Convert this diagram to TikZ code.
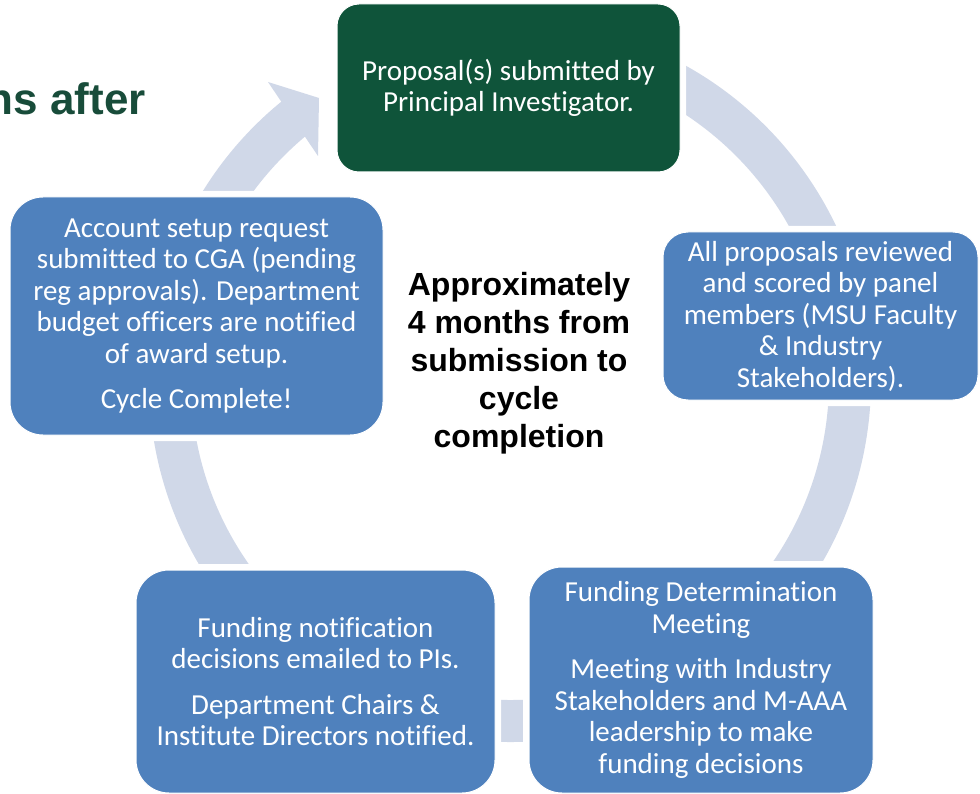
\documentclass[tikz,border=0pt]{standalone}
\usepackage{fontspec}
\setmainfont{Carlito}[Ligatures=NoCommon]
\newfontfamily\headfont{Liberation Sans}

\definecolor{stageblue}{RGB}{79,129,189}
\definecolor{startgreen}{RGB}{15,84,58}
\definecolor{ringgrey}{RGB}{208,216,232}
\definecolor{titlegreen}{RGB}{24,76,58}

\tikzset{
  stage/.style={rounded corners=33pt, fill=stageblue, draw=white, line width=1pt,
    text=white, align=center, inner sep=0pt,
    font=\fontsize{29}{31.5}\selectfont,
    execute at begin node={\rule{0pt}{28pt}},
    preaction={draw=white, line width=12pt}},
  note/.style={font=\headfont\bfseries\fontsize{32}{38}\selectfont, align=center, inner sep=0pt},
}

\begin{document}
\begin{tikzpicture}[x=1pt, y=-1pt]
  % Frame of the slide, y counted downwards
  \clip (0,0) rectangle (980,794);
  \fill[white] (0,0) rectangle (980,794);
  \coordinate (hub) at (510,381);

  % Heading cut off at the left edge
  \node[anchor=base east, inner sep=0pt, text=titlegreen,
        font=\headfont\bfseries\fontsize{44}{50}\selectfont] (heading) at (146,115) {ns after};

  % Ring behind the stages, ending in the arrow head at top left
  \draw[ringgrey, line width=42pt] (hub) ++(-128:340) arc[start angle=-128, end angle=-440, radius=340];
  \fill[ringgrey] (268,82) -- (319,98) -- (318,156) -- cycle;

  % Stages of the cycle
  \node[stage, fill=startgreen, rounded corners=22pt, minimum width=343pt, minimum height=168pt]
    (proposal) at (508.5,88) {Proposal(s) submitted by\\Principal Investigator.};
  \node[stage, rounded corners=25pt, minimum width=315pt, minimum height=168pt]
    (review) at (820.5,316) {All proposals reviewed\\and scored by panel\\members (MSU Faculty\\\& Industry\\Stakeholders).};
  \node[stage, minimum width=344pt, minimum height=226pt]
    (meeting) at (701,680) {Funding Determination\\Meeting\\[14pt]Meeting with Industry\\Stakeholders and M-AAA\\leadership to make\\funding decisions};
  \node[stage, minimum width=359pt, minimum height=223pt]
    (notify) at (315.5,681.5) {Funding notification\\decisions emailed to PIs.\\[14pt]Department Chairs \&\\Institute Directors notified.};
  \node[stage, minimum width=373pt, minimum height=238pt]
    (setup) at (196.5,316) {Account setup request\\submitted to CGA (pending\\reg approvals). Department\\budget officers are notified\\of award setup.\\[14pt]Cycle Complete!};

  % Duration in the middle of the ring
  \node[note] (span) at (519,363) {Approximately\\4 months from\\submission to\\cycle\\completion};
\end{tikzpicture}
\end{document}
